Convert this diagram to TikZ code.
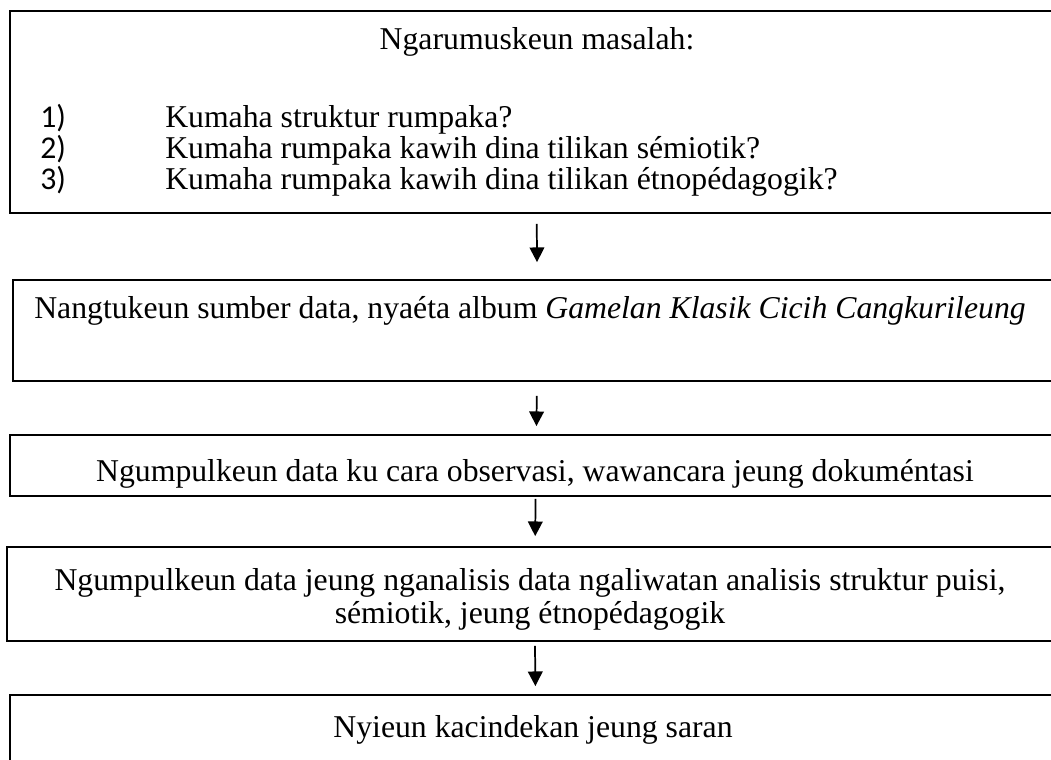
\documentclass[tikz,border=0pt]{standalone}
\usepackage{fontspec}
\setmainfont{Liberation Serif}
\newfontfamily\numfont{Carlito}
\usetikzlibrary{arrows.meta}

\begin{document}
\begin{tikzpicture}[x=0.75pt,y=-0.75pt,
    every node/.style={font=\fontsize{23.8}{28}\selectfont, inner sep=0pt},
    box/.style={draw, rectangle, line width=1.3pt},
    flow/.style={-{Triangle[length=11pt,width=11pt]}, line width=1.3pt}]
    \useasboundingbox (0,0) rectangle (1051,760);
    \def\ax{537}; \def\ya{127}; \def\yb{158}; \def\yc{189};

    \node[box, minimum width=1052*0.75pt, minimum height=202*0.75pt] (masalah) at (536,112) {};
    \node[box, minimum width=1049*0.75pt, minimum height=101*0.75pt] (sumber) at (537.5,330.5) {};
    \node[box, minimum width=1052*0.75pt, minimum height=61*0.75pt] (ngumpul) at (536,465.5) {};
    \node[box, minimum width=1055*0.75pt, minimum height=94*0.75pt] (analisis) at (534.5,594) {};
    \node[box, minimum width=1052*0.75pt, minimum height=105*0.75pt] (saran) at (536,747.5) {};

    \node[anchor=base] (judul) at (\ax,50) {Ngarumuskeun masalah:};
    \node[anchor=base west] (n1) at (40,\ya) {\numfont 1)}; \node[anchor=base west] (k1) at (165,\ya) {Kumaha struktur rumpaka?};
    \node[anchor=base west] (n2) at (40,\yb) {\numfont 2)}; \node[anchor=base west] (k2) at (165,\yb) {Kumaha rumpaka kawih dina tilikan sémiotik?};
    \node[anchor=base west] (n3) at (40,\yc) {\numfont 3)}; \node[anchor=base west] (k3) at (165,\yc) {Kumaha rumpaka kawih dina tilikan étnopédagogik?};

    \node[anchor=base] (t2) at (530,318) {Nangtukeun sumber data, nyaéta album \textit{Gamelan Klasik Cicih Cangkurileung}};
    \node[anchor=base] (t3) at (535,481) {Ngumpulkeun data ku cara observasi, wawancara jeung dokuméntasi};
    \node[anchor=base] (t4a) at (530,590) {Ngumpulkeun data jeung nganalisis data ngaliwatan analisis struktur puisi,};
    \node[anchor=base] (t4b) at (530,623) {sémiotik, jeung étnopédagogik};
    \node[anchor=base] (t5) at (533,737) {Nyieun kacindekan jeung saran};

    \draw[flow, shorten <=7.5pt, shorten >=12.75pt] (masalah) -- (sumber);
    \draw[flow, shorten <=10.5pt, shorten >=6pt] (sumber) -- (ngumpul);
    \draw[flow, shorten <=1.5pt, shorten >=7.5pt] (ngumpul) -- (analisis);
    \draw[flow, shorten <=3pt, shorten >=6pt] (analisis) -- (saran);
  \end{tikzpicture}
\end{document}
